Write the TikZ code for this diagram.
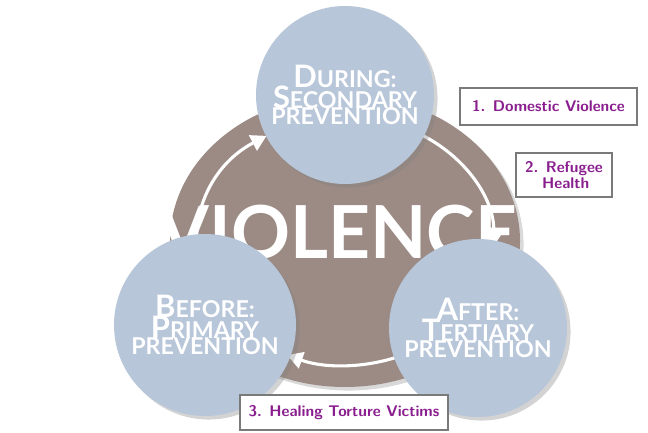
\documentclass[tikz,border=0pt]{standalone}
\usepackage{fontspec}
\setmainfont{Lato}
\usetikzlibrary{calc,shadows,arrows.meta}
\definecolor{discgrey}{HTML}{9C8B84}
\definecolor{stageblue}{HTML}{B8C6D9}
\definecolor{labelpurple}{HTML}{8A1E8F}
\definecolor{boxgrey}{HTML}{7A7A7A}
\tikzset{
  stage/.style={circle, fill=stageblue, minimum size=178*0.025cm, align=center,
    text=white, font=\bfseries, drop shadow={opacity=0.35}},
  flow/.style={white, line width=2.2pt, -{Triangle[width=12pt,length=11pt]}},
  topic/.style={draw=boxgrey, line width=1.6pt, fill=white, text=labelpurple,
    font=\sffamily\bfseries\fontsize{11}{12}\selectfont, align=left, inner sep=4pt}
}
\newcommand{\stagecaps}[2]{{\fontsize{22}{24}\selectfont #1}{\fontsize{16.5}{20}\selectfont #2}}
\begin{document}
\begin{tikzpicture}[x=0.025cm, y=0.025cm]
  \useasboundingbox (0,0) rectangle (648,432);
  % Background disc
  \coordinate (c) at (345,191);
  \fill[discgrey, drop shadow={opacity=0.3}] (c) ellipse[x radius=175, y radius=146];

  % Cycle arrows
  \draw[flow] ($(c)+(205:148 and 124)$) arc[start angle=205, end angle=122, x radius=148, y radius=124];
  \draw[flow] ($(c)+(58:148 and 124)$) arc[start angle=58, end angle=-3, x radius=148, y radius=124];
  \draw[flow] ($(c)+(-62:148 and 124)$) arc[start angle=-62, end angle=-113, x radius=148, y radius=124];

  % Centre word
  \node[text=white, font=\bfseries\fontsize{52}{52}\selectfont] (violence) at (338,200) {VIOLENCE};

  % Stages
  \node[stage] (during) at (345,337) {\stagecaps{D}{URING:}\\[-2pt] \stagecaps{S}{ECONDARY}\\[-2pt] {\fontsize{16.5}{20}\selectfont PREVENTION}};
  \node[stage, minimum size=182*0.025cm] (before) at (205,107) {\stagecaps{B}{EFORE:}\\[-2pt] \stagecaps{P}{RIMARY}\\[-2pt] {\fontsize{16.5}{20}\selectfont PREVENTION}};
  \node[stage] (after) at (478,104) {\stagecaps{A}{FTER:}\\[-2pt] \stagecaps{T}{ERTIARY}\\[-2pt] {\fontsize{16.5}{20}\selectfont PREVENTION}};

  % Topics
  \node[topic, minimum width=177*0.025cm, minimum height=37*0.025cm, align=center] (domestic) at (548.5,325.5) {1. Domestic Violence};
  \node[topic, minimum width=96*0.025cm, minimum height=44*0.025cm] (refugee) at (564,257) {2. Refugee\\ \ \ \ Health};
  \node[topic, minimum width=208*0.025cm, minimum height=35*0.025cm] (torture) at (344,19.5) {3. Healing Torture Victims};
\end{tikzpicture}
\end{document}
